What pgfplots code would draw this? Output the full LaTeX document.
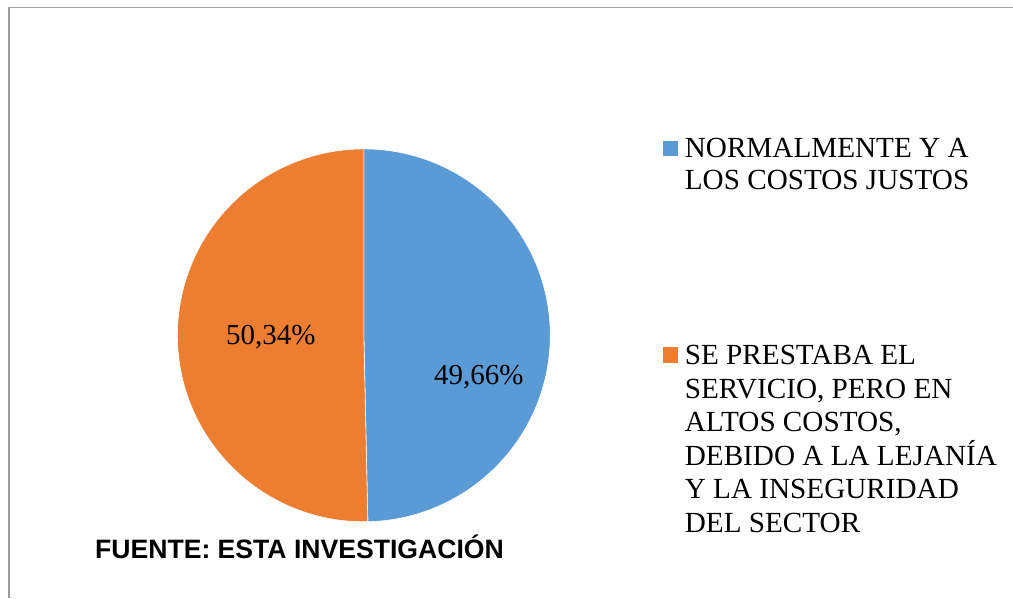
\documentclass[border=0pt]{standalone}
\usepackage{fontspec}
\setmainfont{Liberation Serif}
\newfontfamily\arialfont{Liberation Sans}
\usepackage{pgfplots}
\usepackage{pgfplotstable}
\pgfplotsset{compat=1.18}
\definecolor{sliceblue}{HTML}{5B9BD5}
\definecolor{sliceorange}{HTML}{ED7D31}
\definecolor{framegray}{HTML}{A6A6A6}

% pie values (percent)
\pgfplotstableread{
value
49.66
50.34
}\piedata

\begin{document}
\begin{tikzpicture}
\pgfplotstablegetelem{0}{value}\of\piedata \let\va\pgfplotsretval
\pgfplotstablegetelem{1}{value}\of\piedata \let\vb\pgfplotsretval
\pgfmathsetmacro{\aend}{90-3.6*\va}
\pgfmathsetmacro{\bend}{\aend-3.6*\vb}
\begin{axis}[scale only axis, width=1013bp, height=598bp,
  xmin=0, xmax=1013, ymin=0, ymax=598, hide axis, clip=false]
\path (axis cs:0,0) rectangle (axis cs:1013,598);
% frame (top and left edges only)
\draw[framegray, line width=1pt] (axis cs:9,590) -- (axis cs:1013,590);
\draw[framegray!110, line width=1.4pt] (axis cs:9,0) -- (axis cs:9,590.5);
% slices
\fill[sliceblue, draw=white, line width=0.6pt] (axis cs:364,262.5) -- ++(90:186.5bp)
  arc[start angle=90, end angle=\aend, radius=186.5bp] -- cycle;
\fill[sliceorange, draw=white, line width=0.6pt] (axis cs:364,262.5) -- ++(\aend:186.5bp)
  arc[start angle=\aend, end angle=\bend, radius=186.5bp] -- cycle;
% data labels
\node[anchor=base, font=\fontsize{29bp}{33bp}\selectfont, inner sep=0pt] at (axis cs:271,253) {50,34\%};
\node[anchor=base, font=\fontsize{29bp}{33bp}\selectfont, inner sep=0pt] at (axis cs:479,213) {49,66\%};
% legend
\fill[sliceblue] (axis cs:663,442) rectangle (axis cs:678,457);
\fill[sliceorange] (axis cs:663,235) rectangle (axis cs:678,251);
\begin{scope}[every node/.style={anchor=base west, inner sep=0pt, font=\fontsize{29.2bp}{33bp}\selectfont}]
\node at (axis cs:685,440) {NORMALMENTE Y A};
\node at (axis cs:685,408) {LOS COSTOS JUSTOS};
\node at (axis cs:685,233) {SE PRESTABA EL};
\node at (axis cs:685,199.5) {SERVICIO, PERO EN};
\node at (axis cs:685,166) {ALTOS COSTOS,};
\node at (axis cs:685,132.5) {DEBIDO A LA LEJANÍA};
\node at (axis cs:685,99) {Y LA INSEGURIDAD};
\node at (axis cs:685,65) {DEL SECTOR};
\end{scope}
% source
\node[anchor=base west, inner sep=0pt, font=\arialfont\bfseries\fontsize{26.6bp}{30bp}\selectfont] at (axis cs:95,39) {FUENTE: ESTA INVESTIGACIÓN};
\end{axis}
\end{tikzpicture}
\end{document}
